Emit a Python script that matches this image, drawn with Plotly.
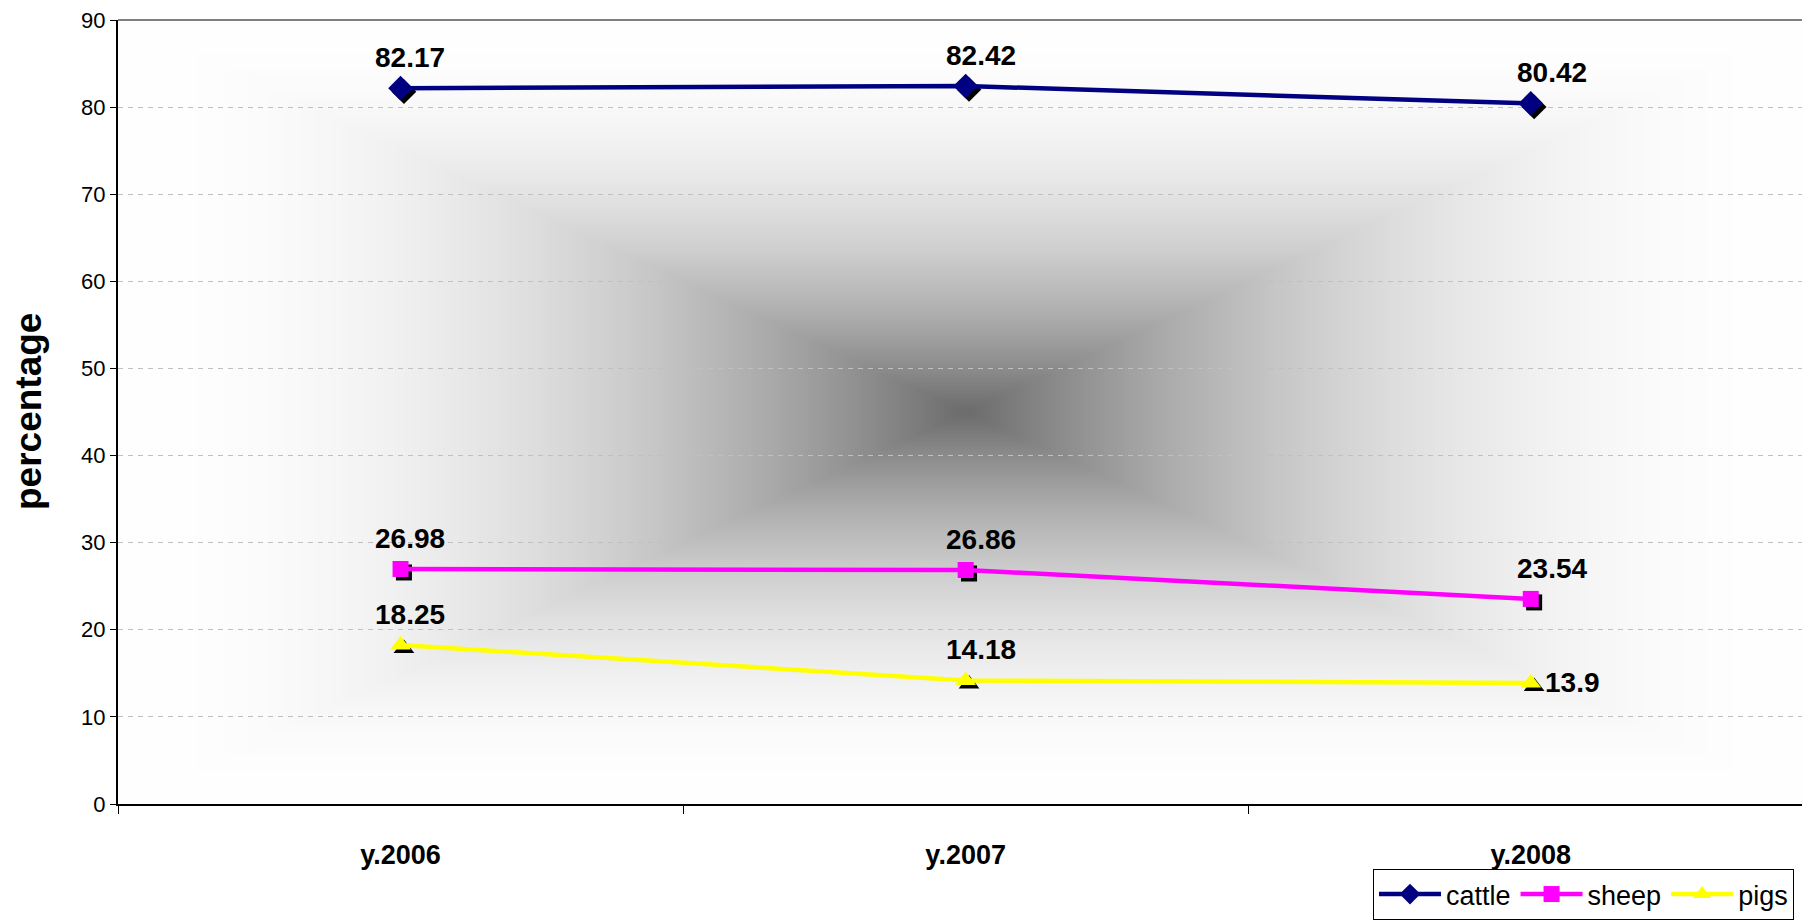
import base64, struct, zlib
import numpy as np
import plotly.graph_objects as go

categories = ["y.2006", "y.2007", "y.2008"]
cattle = [82.17, 82.42, 80.42]
sheep = [26.98, 26.86, 23.54]
pigs = [18.25, 14.18, 13.9]
y_ticks = [0, 10, 20, 30, 40, 50, 60, 70, 80, 90]

W, H = 1802, 920
ML, MR, MT, MB = 118, 0, 20, 107
X_RANGE = [-0.5, 2.48]
Y_RANGE = [0, 90]
FONT = "Liberation Sans"
LABEL_XSHIFT = [9, 15, 21]  # per-category label nudge (px)


def gradient_png(w, h):
    u = (np.arange(w) + 0.5) / w * 2 - 1
    v = (np.arange(h) + 0.5) / h * 2 - 1
    t = np.maximum(np.abs(u)[None, :], np.abs(v)[:, None])
    val = 108 + 147 * (1 - (1 - t) ** 2.1)
    img = np.clip(val, 0, 255).astype(np.uint8)
    raw = b"".join(b"\x00" + img[r].tobytes() for r in range(h))

    def chunk(tag, data):
        c = struct.pack(">I", len(data)) + tag + data
        return c + struct.pack(">I", zlib.crc32(tag + data) & 0xFFFFFFFF)

    png = b"\x89PNG\r\n\x1a\n"
    png += chunk(b"IHDR", struct.pack(">IIBBBBB", w, h, 8, 0, 0, 0, 0))
    png += chunk(b"IDAT", zlib.compress(raw, 9))
    png += chunk(b"IEND", b"")
    return "data:image/png;base64," + base64.b64encode(png).decode()


x_idx = list(range(len(categories)))
series = [
    ("cattle", cattle, "#000080", "diamond", 19),
    ("sheep", sheep, "#FF00FF", "square", 16),
    ("pigs", pigs, "#FFFF00", "triangle-up", 18),
]

fig = go.Figure()

# marker shadows
for name, vals, color, sym, size in series:
    fig.add_trace(go.Scatter(
        x=[xi + 0.006 for xi in x_idx], y=[v - 0.4 for v in vals],
        mode="markers", showlegend=False, hoverinfo="skip",
        marker=dict(symbol=sym, size=size, color="black"),
    ))

for name, vals, color, sym, size in series:
    fig.add_trace(go.Scatter(
        x=x_idx, y=vals, name=name, mode="lines+markers",
        line=dict(color=color, width=4.5),
        marker=dict(symbol=sym, size=size, color=color),
    ))

annotations = []
for name, vals, color, sym, size in series:
    for xi, v in zip(x_idx, vals):
        if name == "pigs" and xi == 2:
            annotations.append(dict(
                x=xi, y=v, text=f"{v:g}", showarrow=False,
                xanchor="left", yanchor="middle", xshift=12, yshift=0,
                font=dict(family=FONT, size=28, color="black", weight="bold"),
            ))
        else:
            annotations.append(dict(
                x=xi, y=v, text=f"{v:g}", showarrow=False,
                xanchor="center", yanchor="bottom",
                xshift=LABEL_XSHIFT[xi], yshift=13,
                font=dict(family=FONT, size=28, color="black", weight="bold"),
            ))

annotations.append(dict(
    x=(28 - ML) / (W - ML - MR), y=0.5, xref="paper", yref="paper",
    text="percentage", textangle=-90, showarrow=False,
    xanchor="center", yanchor="middle",
    font=dict(family=FONT, size=37, color="black", weight="bold"),
))

fig.update_layout(
    width=W, height=H,
    margin=dict(l=ML, r=MR, t=MT, b=MB),
    paper_bgcolor="white",
    plot_bgcolor="rgba(0,0,0,0)",
    font=dict(family=FONT, color="black"),
    showlegend=True,
    legend=dict(
        orientation="h",
        x=(1373 - ML) / (W - ML - MR), xanchor="left",
        y=(MT + (H - MT - MB) - 879) / (H - MT - MB), yanchor="top",
        bgcolor="white", bordercolor="black", borderwidth=1,
        font=dict(family=FONT, size=27, color="black"),
        itemwidth=62, tracegroupgap=0,
    ),
    annotations=annotations,
    images=[dict(
        source=gradient_png(420, 196), xref="paper", yref="paper",
        x=0, y=1, sizex=1.0066, sizey=1, xanchor="left", yanchor="top",
        sizing="stretch", layer="below",
    )],
    shapes=[dict(
        type="line", xref="paper", yref="paper", x0=0, x1=1, y0=1, y1=1,
        line=dict(color="#808080", width=2),
    )],
    xaxis=dict(
        range=X_RANGE, tickmode="array", tickvals=x_idx, ticktext=categories,
        ticks="", showgrid=False, zeroline=False,
        showline=True, linecolor="black", linewidth=2,
        tickfont=dict(family=FONT, size=27, color="black", weight="bold"),
        ticklabelstandoff=26,
        minor=dict(tickmode="array", tickvals=[-0.5, 0.5, 1.5, 2.5],
                   ticks="outside", ticklen=8, tickcolor="black", tickwidth=1,
                   showgrid=False),
    ),
    yaxis=dict(
        range=Y_RANGE, tickmode="array", tickvals=y_ticks,
        ticks="outside", ticklen=6, tickcolor="black",
        showline=True, linecolor="black", linewidth=2,
        showgrid=True, gridcolor="#c0c0c0", gridwidth=1, griddash="5px,5px",
        zeroline=False,
        tickfont=dict(family=FONT, size=22, color="black"),
    ),
)

fig.write_html(
    "out.html",
    config={"displayModeBar": False},
    post_script="document.body.style.margin='0px';document.body.style.overflow='hidden';",
)
